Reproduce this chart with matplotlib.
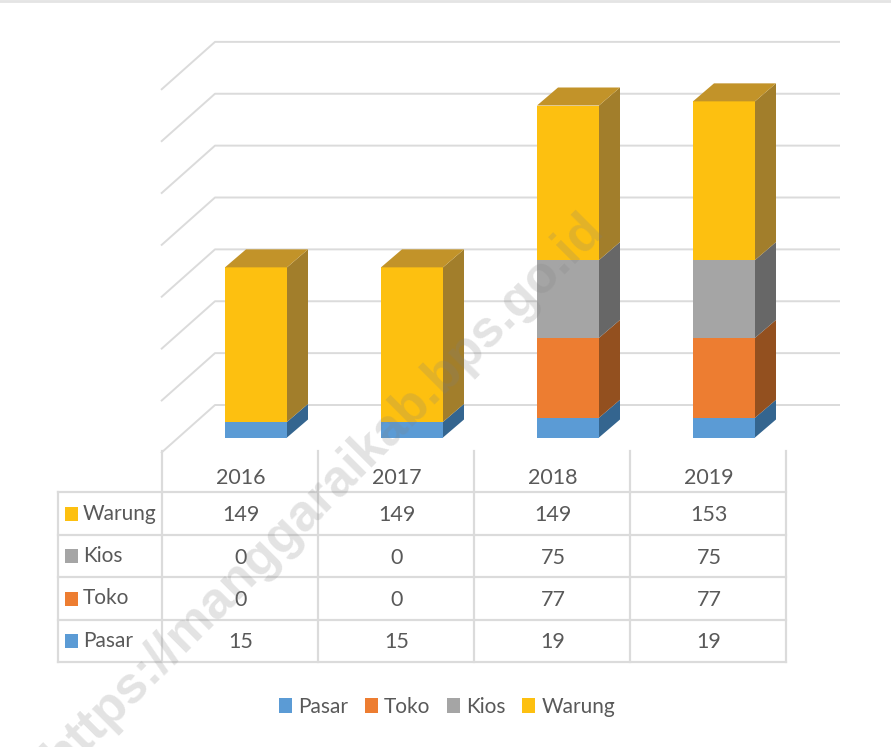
import numpy as np
import matplotlib
matplotlib.use('Agg')
import matplotlib.pyplot as plt
from matplotlib.patches import Rectangle

years = ['2016', '2017', '2018', '2019']
series_names = ['Pasar', 'Toko', 'Kios', 'Warung']
pasar = [15, 15, 19, 19]
toko = [0, 0, 77, 77]
kios = [0, 0, 75, 75]
warung = [149, 149, 149, 153]
grid_values = [0, 50, 100, 150, 200, 250, 300, 350]

front_colors = ['#5B9BD5', '#ED7D31', '#A5A5A5', '#FDC010']
side_colors = ['#34658F', '#93501F', '#676767', '#A27E2B']
top_color = '#C29329'
text_color = '#595959'
line_color = '#DBDBDB'

plt.rcParams['font.family'] = ['Lato', 'DejaVu Sans']

W, H = 891, 747
fig = plt.figure(figsize=(W / 100, H / 100), dpi=100)

# chart axes: x in categories, y in values, stretched over the whole figure
px_per_cat = 156.0
px_per_val = 1.0375
x0_px, y0_px = 256.0, 437.5
ax = fig.add_axes([0, 0, 1, 1])
ax.set_xlim(-x0_px / px_per_cat, (W - x0_px) / px_per_cat)
ax.set_ylim((y0_px - H) / px_per_val, y0_px / px_per_val)
ax.axis('off')

# overlay in pixels for the table frame
ov = fig.add_axes([0, 0, 1, 1])
ov.set_xlim(0, W)
ov.set_ylim(H, 0)
ov.axis('off')
ov.patch.set_alpha(0)

# gridlines, side wall and back wall
dxw = 54 / px_per_cat
back_dy = 32.5 / px_per_val
front_dy = -15.5 / px_per_val
left_x = (161 - x0_px) / px_per_cat
right_x = (840 - x0_px) / px_per_cat
for v in grid_values:
    ax.plot([left_x, left_x + dxw, right_x], [v + front_dy, v + back_dy, v + back_dy],
            color=line_color, lw=1.4, zorder=1, solid_capstyle='butt')

# stacked oblique bars
bar_w = 62 / px_per_cat
dx = 21 / px_per_cat
dy = 18 / px_per_val
stack = np.array([pasar, toko, kios, warung], dtype=float)
bottoms = np.zeros(len(years))
for s in range(len(series_names)):
    for i in range(len(years)):
        b = bottoms[i]
        h = stack[s, i]
        if h == 0:
            continue
        xl = i - bar_w / 2
        xr = i + bar_w / 2
        ax.fill([xl, xr, xr, xl], [b, b, b + h, b + h], color=front_colors[s], lw=0, zorder=3)
        ax.fill([xr, xr + dx, xr + dx, xr], [b, b + dy, b + h + dy, b + h],
                color=side_colors[s], lw=0, zorder=3)
    bottoms += stack[s]
for i in range(len(years)):
    t = bottoms[i]
    xl = i - bar_w / 2
    xr = i + bar_w / 2
    ax.fill([xl, xr, xr + dx, xl + dx], [t, t, t + dy, t + dy], color=top_color, lw=0, zorder=3)

# data table
col_x = [162, 318, 474, 630, 786]
row_y = [492, 535, 577, 620, 662]
for x in col_x:
    ov.plot([x, x], [451, row_y[-1]], color=line_color, lw=1.6, zorder=2)
ov.plot([58, 58], [row_y[0], row_y[-1]], color=line_color, lw=1.6, zorder=2)
for y in row_y:
    ov.plot([58, col_x[-1]], [y, y], color=line_color, lw=1.6, zorder=2)

fs = 15.5
for j, year in enumerate(years):
    ov.text((col_x[j] + col_x[j + 1]) / 2 + 1, 477.5, year, ha='center', va='center',
            fontsize=fs, color=text_color)
for r in range(len(series_names)):
    s = len(series_names) - 1 - r
    yc = (row_y[r] + row_y[r + 1]) / 2
    ov.add_patch(Rectangle((65, yc - 7), 13, 14, color=front_colors[s], lw=0))
    ov.text(83, yc, series_names[s], ha='left', va='center', fontsize=15, color=text_color)
    for j in range(len(years)):
        ov.text((col_x[j] + col_x[j + 1]) / 2 + 1, yc + 1.5, str(int(stack[s, j])), ha='center', va='center',
                fontsize=fs, color=text_color)

# legend
handles = [Rectangle((0, 0), 1, 1, color=c, lw=0) for c in front_colors]
ov.legend(handles, series_names, loc='center', bbox_to_anchor=(447 / W, 1 - 707 / H),
          bbox_transform=fig.transFigure, ncol=4, frameon=False, fontsize=15,
          labelcolor=text_color, handlelength=0.62, handleheight=0.7,
          handletextpad=0.3, columnspacing=0.8, borderpad=0)

# top border of the picture
ov.plot([0, W], [1, 1], color='#E4E4E4', lw=2, zorder=2)

# watermark, runs off the bottom edge as in the source
ov.text(324, 493, 'https://manggaraikab.bps.go.id', rotation=45, rotation_mode='anchor',
        ha='center', va='center', fontsize=37.3, fontweight='bold', family=['Liberation Sans'],
        color='#808080', alpha=0.22, zorder=10)

fig.savefig('out.png', dpi=100)
